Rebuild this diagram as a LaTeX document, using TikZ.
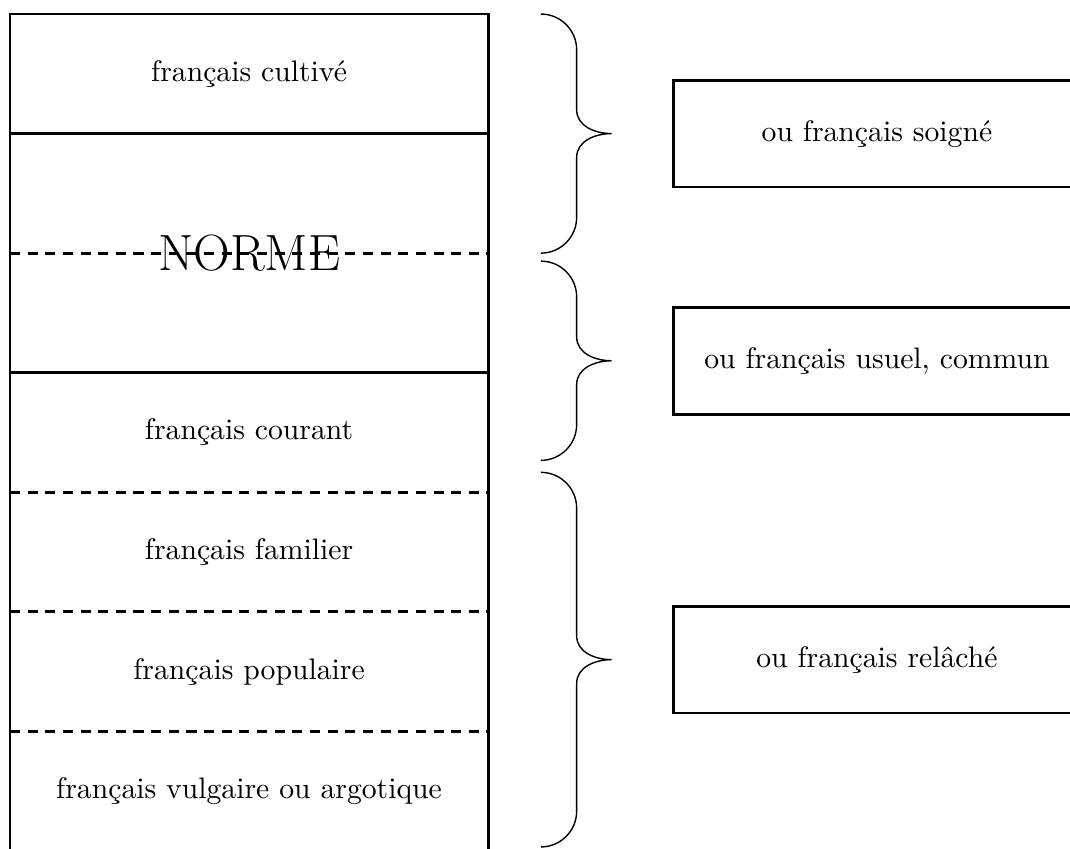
\documentclass[tikz,border=0pt]{standalone}
\usepackage{tikz}
\usetikzlibrary{positioning}

% curly brace from (6.66,#1) down to (6.66,#2), tip pointing right
\newcommand{\curlybrace}[2]{%
	\draw[bracket] (6.66,#1) to[out=0,in=90] (7.11,#1-0.45)
		-- (7.11,{(#1+#2)/2+0.3}) to[out=-90,in=180] (7.55,{(#1+#2)/2})
		to[out=180,in=90] (7.11,{(#1+#2)/2-0.3})
		-- (7.11,#2+0.45) to[out=-90,in=0] (6.66,#2);
}

\begin{document}
\begin{tikzpicture}[
	rowtext/.style = {font=\fontsize{10.6}{12.7}\selectfont},
	normtext/.style = {font=\fontsize{18.2}{21.8}\selectfont},
	squarednode/.style={rectangle, draw, line width=1pt, minimum width=5.1cm, minimum height=1.34cm, font=\fontsize{10.6}{12.7}\selectfont},
	solidline/.style={line width=1pt},
	dashline/.style={line width=1pt, dash pattern=on 3.6pt off 2.7pt},
	bracket/.style={line width=0.5pt},
]
\useasboundingbox (-0.125,0.176) rectangle (13.3,-10.464);

\draw[solidline] (0,0) rectangle (6,-10.5);
\draw[solidline] (0,-1.5)--(6,-1.5);
\draw[solidline] (0,-4.5)--(6,-4.5);

\node[rowtext] (cultive) at (3,-0.75) {français cultivé};
\node[normtext] (norme) at (3,-3) {NORME};
\node[rowtext] (courant) at (3,-5.25) {français courant};
\node[rowtext] (familier) at (3,-6.75) {français familier};
\node[rowtext] (populaire) at (3,-8.25) {français populaire};
\node[rowtext] (vulgaire) at (3,-9.75) {français vulgaire ou argotique};

\draw[dashline] (0,-3)--(6,-3);
\draw[dashline] (0,-6)--(6,-6);
\draw[dashline] (0,-7.5)--(6,-7.5);
\draw[dashline] (0,-9)--(6,-9);

\curlybrace{0}{-3}
\curlybrace{-3.1}{-5.6}
\curlybrace{-5.75}{-10.45}

\coordinate (tip1) at (7.55,-1.5);
\coordinate (tip2) at (7.55,-4.35);
\coordinate (tip3) at (7.55,-8.1);

\node[squarednode] (soigne) [right=0.76cm of tip1]{ou français soigné};
\node[squarednode] (usuel) [right=0.76cm of tip2]{ou français usuel, commun};
\node[squarednode] (relache) [right=0.76cm of tip3]{ou français relâché};

\end{tikzpicture}
\end{document}
